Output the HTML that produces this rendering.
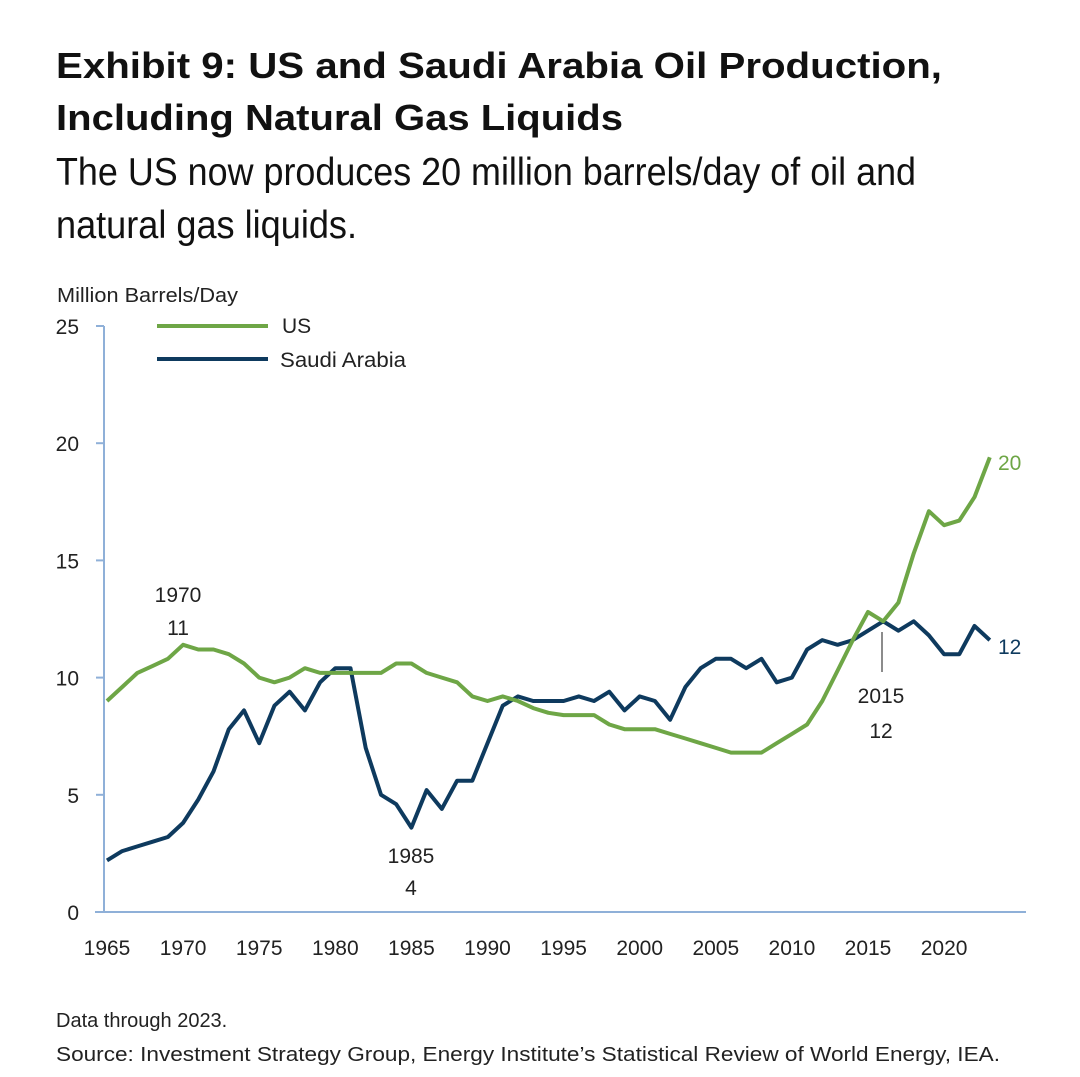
<!DOCTYPE html>
<html><head><meta charset="utf-8"><style>
html,body{margin:0;padding:0;background:#fff;}
svg{display:block;font-family:"Liberation Sans",sans-serif;}
</style></head><body>
<svg id="chart" width="1080" height="1077" viewBox="0 0 1080 1077">
<text x="56" y="78" font-size="36" font-weight="bold" fill="#111" textLength="886" lengthAdjust="spacingAndGlyphs">Exhibit 9: US and Saudi Arabia Oil Production,</text>
<text x="56" y="130" font-size="36" font-weight="bold" fill="#111" textLength="567" lengthAdjust="spacingAndGlyphs">Including Natural Gas Liquids</text>
<text x="56" y="185" font-size="39" fill="#111" textLength="860" lengthAdjust="spacingAndGlyphs">The US now produces 20 million barrels/day of oil and</text>
<text x="56" y="238" font-size="39" fill="#111" textLength="301" lengthAdjust="spacingAndGlyphs">natural gas liquids.</text>
<text x="57" y="302" font-size="20" fill="#222" textLength="181" lengthAdjust="spacingAndGlyphs">Million Barrels/Day</text>
<g id="axes"></g>
<g id="series"></g>
<g>
<line x1="157" y1="326" x2="268" y2="326" stroke="#6ea646" stroke-width="4"/>
<text x="282" y="333" font-size="21" fill="#222">US</text>
<line x1="157" y1="359" x2="268" y2="359" stroke="#0e3a5e" stroke-width="4"/>
<text x="280" y="367" font-size="21" fill="#222" textLength="126" lengthAdjust="spacingAndGlyphs">Saudi Arabia</text>
</g>
<text x="178" y="602" font-size="21" fill="#222" text-anchor="middle">1970</text>
<text x="178" y="635" font-size="21" fill="#222" text-anchor="middle">11</text>
<text x="411" y="863" font-size="21" fill="#222" text-anchor="middle">1985</text>
<text x="411" y="895" font-size="21" fill="#222" text-anchor="middle">4</text>
<line x1="882" y1="632" x2="882" y2="672" stroke="#666" stroke-width="1.5"/>
<text x="881" y="703" font-size="21" fill="#222" text-anchor="middle">2015</text>
<text x="881" y="738" font-size="21" fill="#222" text-anchor="middle">12</text>
<text x="998" y="470" font-size="21" fill="#6ea646">20</text>
<text x="998" y="654" font-size="21" fill="#0e3a5e">12</text>
<text x="56" y="1027" font-size="20" fill="#222">Data through 2023.</text>
<text x="56" y="1061" font-size="20" fill="#222" textLength="944" lengthAdjust="spacingAndGlyphs">Source: Investment Strategy Group, Energy Institute’s Statistical Review of World Energy, IEA.</text>
</svg>
<script>
const startYear = 1965;
const usValues = [9.0,9.6,10.2,10.5,10.8,11.4,11.2,11.2,11.0,10.6,10.0,9.8,10.0,10.4,10.2,10.2,10.2,10.2,10.2,10.6,10.6,10.2,10.0,9.8,9.2,9.0,9.2,9.0,8.7,8.5,8.4,8.4,8.4,8.0,7.8,7.8,7.8,7.6,7.4,7.2,7.0,6.8,6.8,6.8,7.2,7.6,8.0,9.0,10.3,11.6,12.8,12.4,13.2,15.3,17.1,16.5,16.7,17.7,19.4];
const saudiValues = [2.2,2.6,2.8,3.0,3.2,3.8,4.8,6.0,7.8,8.6,7.2,8.8,9.4,8.6,9.8,10.4,10.4,7.0,5.0,4.6,3.6,5.2,4.4,5.6,5.6,7.2,8.8,9.2,9.0,9.0,9.0,9.2,9.0,9.4,8.6,9.2,9.0,8.2,9.6,10.4,10.8,10.8,10.4,10.8,9.8,10.0,11.2,11.6,11.4,11.6,12.0,12.4,12.0,12.4,11.8,11.0,11.0,12.2,11.6];
const yTicks = [0,5,10,15,20,25];
const xTicks = [1965,1970,1975,1980,1985,1990,1995,2000,2005,2010,2015,2020];

const NS = "http://www.w3.org/2000/svg";
const x = yr => 107 + (yr - 1965) * 15.22;
const y = v => 912 - v * 23.44;
const axes = document.getElementById('axes');
const series = document.getElementById('series');
function mk(tag, attrs, parent){const e=document.createElementNS(NS,tag);for(const k in attrs)e.setAttribute(k,attrs[k]);parent.appendChild(e);return e;}

const yl = mk('line',{x1:104,y1:y(25),x2:104,y2:912,stroke:'#8fb0d8','stroke-width':2},axes);


const xl = mk('line',{x1:95,y1:912,x2:1026,y2:912,stroke:'#8fb0d8','stroke-width':2},axes);


yTicks.forEach(t=>{
  const tk = mk('line',{x1:96,y1:y(t),x2:104,y2:y(t),stroke:'#8fb0d8','stroke-width':2},axes);
  
  
  const lb = mk('text',{x:79,y:y(t)+8,'font-size':21,fill:'#222','text-anchor':'end'},axes);
  lb.textContent = t;
  
  
});
xTicks.forEach(t=>{
  const lb = mk('text',{x:x(t),y:955,'font-size':21,fill:'#222','text-anchor':'middle'},axes);
  lb.textContent = t;
  
  
});
function line(vals,color,name){
  const d = vals.map((v,i)=>(i?'L':'M')+x(startYear+i).toFixed(1)+','+y(v).toFixed(1)).join(' ');
  const p = mk('path',{d:d,fill:'none',stroke:color,'stroke-width':4,'stroke-linejoin':'round'},series);
  
  
}
line(saudiValues,'#0e3a5e','saudi-arabia-line');
line(usValues,'#6ea646','us-line');
</script>
</body></html>
